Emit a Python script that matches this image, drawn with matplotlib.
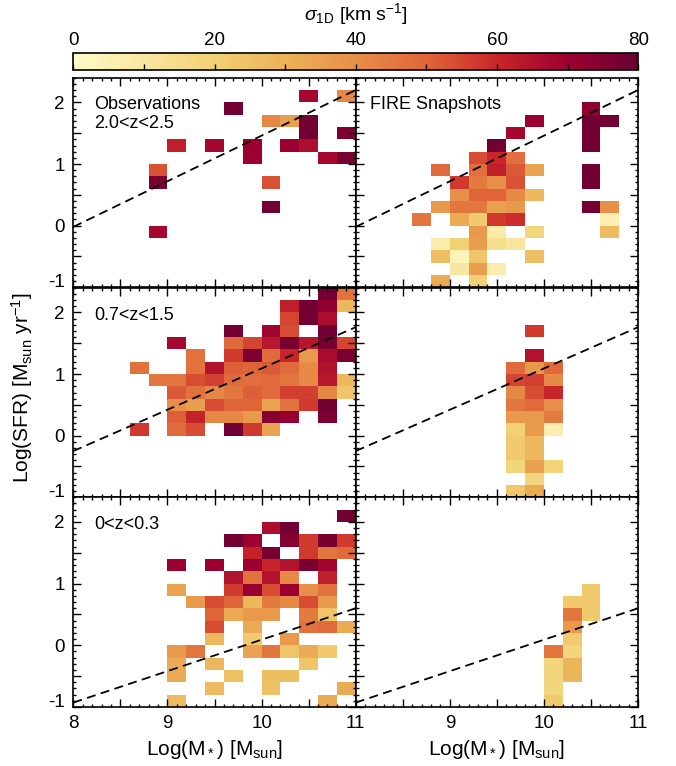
import numpy as np
import matplotlib
matplotlib.use('Agg')
import matplotlib.pyplot as plt
from matplotlib.colors import LinearSegmentedColormap
from matplotlib.ticker import MultipleLocator, FuncFormatter

plt.rcParams['font.family'] = ['Liberation Sans', 'DejaVu Sans']
plt.rcParams['mathtext.fontset'] = 'custom'
plt.rcParams['mathtext.rm'] = 'Liberation Sans'
plt.rcParams['mathtext.it'] = 'Liberation Sans:italic'
plt.rcParams['mathtext.bf'] = 'Liberation Sans:bold'
plt.rcParams['axes.unicode_minus'] = False

# (logM*, logSFR, sigma_1D) for each occupied 0.2 x 0.2 dex bin
obs_hi = [(10.5, 2.1, 68), (10.9, 2.1, 42),
          (9.7, 1.9, 78),
          (10.1, 1.7, 42), (10.3, 1.7, 36), (10.5, 1.7, 78),
          (10.5, 1.5, 78), (10.9, 1.5, 76),
          (9.1, 1.3, 62), (9.5, 1.3, 68), (9.9, 1.3, 70), (10.3, 1.3, 70), (10.5, 1.3, 66),
          (9.9, 1.1, 70), (10.7, 1.1, 68), (10.9, 1.1, 77),
          (8.9, 0.9, 53),
          (8.9, 0.7, 77), (10.1, 0.7, 53),
          (10.1, 0.3, 78),
          (8.9, -0.1, 68)]

fire_hi = [(10.5, 1.9, 72),
           (9.9, 1.7, 70), (10.5, 1.7, 78), (10.7, 1.7, 78),
           (9.7, 1.5, 68), (10.5, 1.5, 78),
           (9.5, 1.3, 78), (10.5, 1.3, 78),
           (9.3, 1.1, 54), (9.5, 1.1, 60), (9.7, 1.1, 48),
           (8.9, 0.9, 49), (9.3, 0.9, 48), (9.5, 0.9, 62), (9.7, 0.9, 52), (9.9, 0.9, 34), (10.5, 0.9, 78),
           (9.1, 0.7, 57), (9.3, 0.7, 45), (9.5, 0.7, 40), (9.7, 0.7, 53), (10.5, 0.7, 78),
           (9.1, 0.5, 40), (9.3, 0.5, 50), (9.5, 0.5, 50), (9.7, 0.5, 41), (9.9, 0.5, 28),
           (8.9, 0.3, 37), (9.1, 0.3, 46), (9.3, 0.3, 46), (9.5, 0.3, 35), (9.7, 0.3, 37),
           (10.5, 0.3, 78), (10.7, 0.3, 40),
           (8.7, 0.1, 46), (9.1, 0.1, 32), (9.3, 0.1, 22), (9.5, 0.1, 57), (9.7, 0.1, 59), (10.7, 0.1, 6),
           (9.3, -0.1, 37), (9.5, -0.1, 8), (9.9, -0.1, 18), (10.7, -0.1, 27),
           (8.9, -0.3, 7), (9.1, -0.3, 20), (9.3, -0.3, 36), (9.5, -0.3, 14), (9.7, -0.3, 10),
           (8.9, -0.5, 26), (9.1, -0.5, 4), (9.3, -0.5, 24), (9.9, -0.5, 26),
           (9.1, -0.7, 10), (9.3, -0.7, 36), (9.5, -0.7, 7),
           (8.9, -0.9, 32), (9.3, -0.9, 20)]

obs_mid = [(10.7, 2.3, 78), (10.9, 2.3, 47),
           (10.3, 2.1, 62), (10.5, 2.1, 78), (10.7, 2.1, 72), (10.9, 2.1, 28),
           (10.3, 1.9, 55), (10.5, 1.9, 78), (10.7, 1.9, 66),
           (9.7, 1.7, 78), (10.1, 1.7, 69), (10.3, 1.7, 54), (10.7, 1.7, 78),
           (9.1, 1.5, 68), (9.7, 1.5, 49), (9.9, 1.5, 55), (10.1, 1.5, 64), (10.3, 1.5, 77),
           (10.5, 1.5, 64), (10.7, 1.5, 77), (10.9, 1.5, 55),
           (9.3, 1.3, 47), (9.7, 1.3, 57), (9.9, 1.3, 76), (10.1, 1.3, 49), (10.3, 1.3, 60),
           (10.5, 1.3, 37), (10.7, 1.3, 67), (10.9, 1.3, 77),
           (8.7, 1.1, 47), (9.3, 1.1, 47), (9.5, 1.1, 65), (9.7, 1.1, 51), (9.9, 1.1, 50),
           (10.1, 1.1, 52), (10.3, 1.1, 49), (10.5, 1.1, 41), (10.7, 1.1, 65),
           (8.9, 0.9, 46), (9.1, 0.9, 46), (9.3, 0.9, 54), (9.5, 0.9, 56), (9.7, 0.9, 49), (9.9, 0.9, 48),
           (10.1, 0.9, 49), (10.3, 0.9, 46), (10.5, 0.9, 41), (10.7, 0.9, 64), (10.9, 0.9, 28),
           (9.1, 0.7, 52), (9.3, 0.7, 47), (9.5, 0.7, 42), (9.7, 0.7, 46), (9.9, 0.7, 51),
           (10.1, 0.7, 49), (10.3, 0.7, 56), (10.5, 0.7, 56), (10.7, 0.7, 42), (10.9, 0.7, 24),
           (9.1, 0.5, 40), (9.3, 0.5, 36), (9.5, 0.5, 54), (9.7, 0.5, 50), (9.9, 0.5, 50),
           (10.1, 0.5, 34), (10.3, 0.5, 47), (10.5, 0.5, 57), (10.7, 0.5, 78),
           (9.1, 0.3, 51), (9.3, 0.3, 61), (9.5, 0.3, 42), (9.7, 0.3, 42), (9.9, 0.3, 37),
           (10.1, 0.3, 74), (10.3, 0.3, 71), (10.7, 0.3, 76),
           (8.7, 0.1, 57), (9.1, 0.1, 49), (9.3, 0.1, 54), (9.7, 0.1, 78), (9.9, 0.1, 57), (10.1, 0.1, 34)]

fire_mid = [(9.9, 1.7, 57),
            (9.9, 1.3, 65),
            (9.7, 1.1, 49), (9.9, 1.1, 37), (10.1, 1.1, 49),
            (9.7, 0.9, 55), (9.9, 0.9, 56), (10.1, 0.9, 41),
            (9.7, 0.7, 42), (9.9, 0.7, 54), (10.1, 0.7, 60),
            (9.7, 0.5, 46), (9.9, 0.5, 49), (10.1, 0.5, 40),
            (9.7, 0.3, 37), (9.9, 0.3, 37), (10.1, 0.3, 45),
            (9.7, 0.1, 20), (9.9, 0.1, 37), (10.1, 0.1, 6),
            (9.7, -0.1, 22), (9.9, -0.1, 28),
            (9.7, -0.3, 22), (9.9, -0.3, 28),
            (9.7, -0.5, 18), (9.9, -0.5, 35), (10.1, -0.5, 18),
            (9.9, -0.7, 18),
            (9.7, -0.9, 23), (9.9, -0.9, 32)]

obs_lo = [(10.9, 2.1, 78),
          (10.1, 1.9, 66), (10.3, 1.9, 78),
          (9.7, 1.7, 78), (9.9, 1.7, 70), (10.3, 1.7, 74), (10.5, 1.7, 57), (10.7, 1.7, 77), (10.9, 1.7, 57),
          (9.9, 1.5, 61), (10.1, 1.5, 77), (10.5, 1.5, 57), (10.7, 1.5, 46), (10.9, 1.5, 49),
          (9.1, 1.3, 70), (9.5, 1.3, 70), (9.9, 1.3, 70), (10.1, 1.3, 60), (10.3, 1.3, 65),
          (10.5, 1.3, 77), (10.7, 1.3, 69),
          (9.7, 1.1, 65), (9.9, 1.1, 47), (10.1, 1.1, 65), (10.3, 1.1, 41), (10.7, 1.1, 62),
          (9.1, 0.9, 34), (9.7, 0.9, 57), (9.9, 0.9, 70), (10.1, 0.9, 54), (10.3, 0.9, 70),
          (10.5, 0.9, 40), (10.7, 0.9, 47),
          (9.3, 0.7, 37), (9.5, 0.7, 54), (9.7, 0.7, 50), (9.9, 0.7, 28), (10.1, 0.7, 45),
          (10.3, 0.7, 41), (10.5, 0.7, 54), (10.7, 0.7, 37),
          (9.5, 0.5, 50), (9.7, 0.5, 32), (9.9, 0.5, 37), (10.1, 0.5, 37), (10.5, 0.5, 45), (10.7, 0.5, 24),
          (9.5, 0.3, 54), (9.9, 0.3, 32), (10.5, 0.3, 47), (10.7, 0.3, 49), (10.9, 0.3, 32),
          (9.5, 0.1, 28), (9.9, 0.1, 22), (10.3, 0.1, 37),
          (9.1, -0.1, 37), (9.3, -0.1, 46), (9.9, -0.1, 34), (10.1, -0.1, 46), (10.3, -0.1, 24),
          (10.5, -0.1, 32), (10.7, -0.1, 22),
          (9.1, -0.3, 32), (9.5, -0.3, 28), (10.5, -0.3, 24),
          (9.1, -0.5, 32), (9.7, -0.5, 25), (10.1, -0.5, 26), (10.3, -0.5, 26),
          (9.5, -0.7, 27), (10.1, -0.7, 25), (10.9, -0.7, 32),
          (9.1, -0.9, 27), (10.7, -0.9, 32)]

fire_lo = [(10.5, 0.9, 22),
           (10.3, 0.7, 22), (10.5, 0.7, 22),
           (10.3, 0.5, 46), (10.5, 0.5, 22),
           (10.3, 0.3, 37),
           (10.3, 0.1, 22),
           (10.1, -0.1, 46), (10.3, -0.1, 18),
           (10.1, -0.3, 18), (10.3, -0.3, 29),
           (10.1, -0.5, 18), (10.3, -0.5, 29),
           (10.1, -0.7, 18),
           (10.1, -0.9, 22)]

z_labels = ['2.0<z<2.5', '0.7<z<1.5', '0<z<0.3']
# star-forming main sequence: logSFR = ms_norm + ms_slope * (logM - 10)
ms_norm = [1.46, 1.09, 0.09]
ms_slope = [0.74, 0.67, 0.51]

sigma_stops = [0, 10, 20, 30, 40, 50, 60, 70, 80]
sigma_colors = ['#fffbc8', '#f8e6a0', '#f2d074', '#ecb257', '#e78f48',
                '#df6639', '#c9262a', '#9c0030', '#690032']
cmap = LinearSegmentedColormap.from_list(
    'sig', [(s / 80.0, c) for s, c in zip(sigma_stops, sigma_colors)])

xedges = np.linspace(8.0, 11.0, 16)
yedges = np.linspace(-1.0, 2.4, 18)

fig = plt.figure(figsize=(6.76, 7.66), dpi=100)

W, H = 676.0, 766.0
col_left = [73.3 / W, 355.7 / W]
pw = 282.4 / W
ph = 209.6 / H
row_bottom = [1 - 287.3 / H, 1 - 497.3 / H, 1 - 706.9 / H]

panels = [[obs_hi, fire_hi], [obs_mid, fire_mid], [obs_lo, fire_lo]]

def int_label(v, pos, skip_first=False):
    if abs(v - round(v)) > 1e-6:
        return ''
    if skip_first and abs(v - 8) < 1e-6:
        return ''
    return '%d' % round(v)

mesh = None
left_axes = []
for r in range(3):
    for c in range(2):
        ax = fig.add_axes([col_left[c], row_bottom[r], pw, ph])
        pts = np.array(panels[r][c], dtype=float)
        cnt, _, _ = np.histogram2d(pts[:, 0], pts[:, 1], bins=[xedges, yedges])
        tot, _, _ = np.histogram2d(pts[:, 0], pts[:, 1], bins=[xedges, yedges], weights=pts[:, 2])
        mean = np.ma.masked_where(cnt == 0, tot / np.maximum(cnt, 1))
        mesh = ax.pcolormesh(xedges, yedges, mean.T, cmap=cmap, vmin=0, vmax=80)

        xl = np.array([8.0, 11.0])
        ax.plot(xl, ms_norm[r] + ms_slope[r] * (xl - 10), color='black',
                lw=1.3, dashes=(5, 3))

        ax.set_xlim(8, 11)
        ax.set_ylim(-1, 2.4)
        ax.xaxis.set_major_locator(MultipleLocator(0.5))
        ax.xaxis.set_minor_locator(MultipleLocator(0.1))
        ax.yaxis.set_major_locator(MultipleLocator(0.5))
        ax.yaxis.set_minor_locator(MultipleLocator(0.1))
        ax.tick_params(which='both', direction='in', top=True, right=True,
                       width=1.0, labelsize=13.5, pad=6)
        ax.tick_params(which='major', length=5.5)
        ax.tick_params(which='minor', length=2.5)
        for sp in ax.spines.values():
            sp.set_linewidth(1.2)

        if c == 0:
            ax.yaxis.set_major_formatter(FuncFormatter(int_label))
            left_axes.append(ax)
        else:
            ax.tick_params(labelleft=False)
        if r == 2:
            ax.xaxis.set_major_formatter(
                FuncFormatter(lambda v, p, s=(c == 1): int_label(v, p, s)))
            ax.set_xlabel(r'Log(M$_*$) [M$_{\rm sun}$]', fontsize=15, labelpad=4)
        else:
            ax.tick_params(labelbottom=False)

        if c == 0:
            if r == 0:
                ax.text(0.073, 0.874, 'Observations', transform=ax.transAxes,
                        fontsize=13, va='center', ha='left')
                ax.text(0.073, 0.782, z_labels[r], transform=ax.transAxes,
                        fontsize=13, va='center', ha='left')
            else:
                ax.text(0.073, 0.869, z_labels[r], transform=ax.transAxes,
                        fontsize=13, va='center', ha='left')
        elif r == 0:
            ax.text(0.051, 0.874, 'FIRE Snapshots', transform=ax.transAxes,
                    fontsize=13, va='center', ha='left')

fig.text(22 / W, 1 - 388 / H, r'Log(SFR) [M$_{\rm sun}$ yr$^{-1}$]', rotation=90,
         fontsize=15, ha='center', va='center')

cax = fig.add_axes([73.3 / W, 1 - 70 / H, 565.0 / W, 16.7 / H])
cb = fig.colorbar(mesh, cax=cax, orientation='horizontal')
cb.set_ticks([0, 20, 40, 60, 80])
cb.ax.xaxis.set_minor_locator(MultipleLocator(10))
cb.ax.tick_params(which='both', direction='in', bottom=True, top=False,
                  labelbottom=False, labeltop=True, labelsize=13.5,
                  length=4, width=1.0, pad=3)
cb.outline.set_linewidth(1.2)
fig.text(355.8 / W, 1 - 14 / H, r'$\sigma_{\rm 1D}$ [km s$^{-1}$]', fontsize=14,
         ha='center', va='center')

# lift the "-1" labels off the panel seams, as in the original
fig.canvas.draw()
for ax in left_axes:
    for lab in ax.get_yticklabels():
        if lab.get_text() == '-1':
            lab.set_va('baseline')

fig.savefig('out.png', dpi=100)
